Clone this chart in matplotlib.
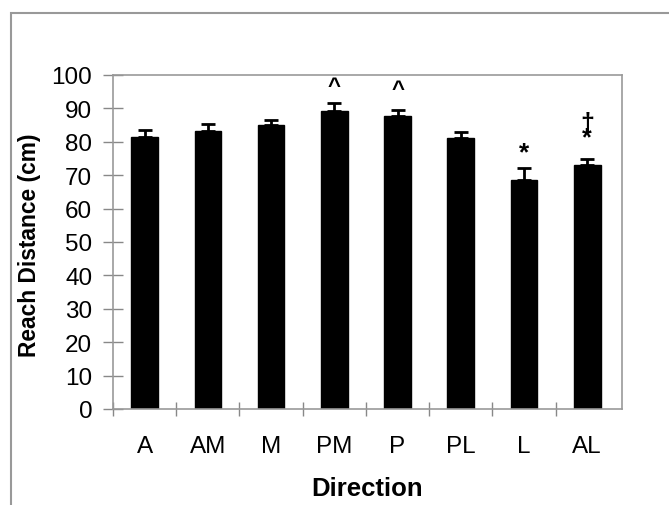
import matplotlib
matplotlib.use("Agg")
import matplotlib.pyplot as plt
from matplotlib.patches import Rectangle
import numpy as np

plt.rcParams['font.family'] = ['Liberation Sans', 'DejaVu Sans']

directions = ["A", "AM", "M", "PM", "P", "PL", "L", "AL"]
reach = [81.5, 83.2, 84.9, 89.1, 87.7, 81.1, 68.6, 73.0]
err = [2.0, 2.2, 1.6, 2.6, 1.8, 1.8, 3.6, 1.9]
marks = ["", "", "", "^", "^", "", "*", "†\n*"]
mark_y = [0, 0, 0, 96.5, 95.8, 0, 77.0, 83.5]
yticks = list(range(0, 101, 10))

W, H = 669, 506
fig = plt.figure(figsize=(W / 100, H / 100), dpi=100)
ax = fig.add_axes([113 / W, 1 - 410 / H, (622 - 113) / W, (410 - 76) / H])

x = np.arange(len(directions))
ax.bar(x, reach, width=0.42, color='black', edgecolor='black', zorder=2)
ax.errorbar(x, reach, yerr=[np.zeros(len(err)), err], fmt='none',
            ecolor='black', elinewidth=2, capsize=5, capthick=2, zorder=3)

for xi, m, my in zip(x, marks, mark_y):
    if m:
        fs = {"^": 16, "*": 19}.get(m, 18)
        ax.text(xi, my, m, ha='center', va='center', fontsize=fs,
                fontweight='heavy', linespacing=0.5, color='black')

ax.set_xlim(-0.5, 7.55)
ax.set_ylim(0, 100)
ax.set_yticks(yticks)
ax.set_yticklabels([str(v) for v in yticks], fontsize=17.5)
ax.set_xticks(x)
ax.set_xticklabels(directions, fontsize=17.5)
ax.set_xticks(np.arange(-0.5, 7.0, 1.0), minor=True)
ax.tick_params(axis='x', which='major', length=0, pad=19)
ax.tick_params(axis='x', which='minor', direction='inout', length=10,
               color='#888888', width=1)
ax.tick_params(axis='y', direction='inout', length=14, color='#888888',
               width=1, pad=8)

for s in ax.spines.values():
    s.set_color('#999999')
    s.set_linewidth(1.2)

fig.text(30 / W, 1 - 245 / H, "Reach Distance (cm)", rotation=90,
         ha='center', va='center', fontsize=16.4, fontweight='bold')
fig.text((113 + 622) / 2 / W, 1 - 489 / H, "Direction",
         ha='center', va='center', fontsize=18.5, fontweight='bold')

frame = Rectangle((11 / W, -0.05), 1.2, 1 - 14 / H + 0.05,
                  transform=fig.transFigure, fill=False,
                  edgecolor='#999999', linewidth=1.5, clip_on=False)
fig.patches.append(frame)

fig.savefig("out.png", dpi=100)
